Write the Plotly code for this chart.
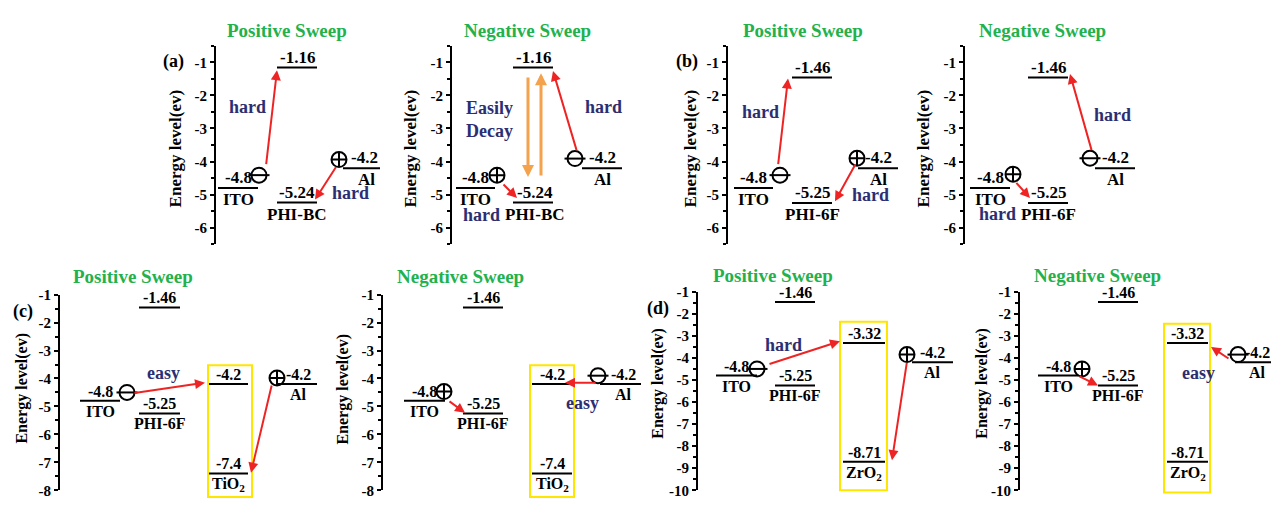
import plotly.graph_objects as go

# ---------------- data: energy levels (eV) ----------------
materials = ["ITO", "PHI-BC LUMO", "PHI-BC HOMO", "PHI-6F LUMO", "PHI-6F HOMO",
             "TiO2 CB", "TiO2 VB", "ZrO2 CB", "ZrO2 VB", "Al"]
energies = [-4.8, -1.16, -5.24, -1.46, -5.25, -4.2, -7.4, -3.32, -8.71, -4.2]
name_keys = ["ITO", "PHI-BC HOMO", "PHI-6F HOMO", "TiO2 VB", "ZrO2 VB", "Al"]
name_texts = ["ITO", "PHI-BC", "PHI-6F", "TiO<sub>2</sub>", "ZrO<sub>2</sub>", "Al"]
panel_titles = ["Positive Sweep", "Negative Sweep"] * 4
panel_tags = ["(a)", "", "(b)", "", "(c)", "", "(d)", ""]
ticks_ab = [-1, -2, -3, -4, -5, -6]
ticks_c = [-1, -2, -3, -4, -5, -6, -7, -8]
ticks_d = [-1, -2, -3, -4, -5, -6, -7, -8, -9, -10]
y_title = "Energy level(ev)"

E = dict(zip(materials, energies))
NAMES = dict(zip(name_keys, name_texts))

W, H = 1271, 506
FONT = "Liberation Serif"
RED, NAVY, GREEN, ORANGE, YELLOW = "#ee2424", "#2b2e72", "#22b14c", "#f4a24c", "#ffe600"

# ---------------- layout spec (pixel offsets from each y-axis line) ----------------
panels = [
    dict(ax=216, right=392, top=39, bot=244, yr=(-6.5, -0.5), ticks=ticks_ab,
         title=(287, 23), tag=(173, 55), ylab=(175, 145), ylab_size=17, lab_size=17,
         levels=[("ITO", 2, 42, 0, 0), ("PHI-BC LUMO", 61, 101, 0, 0),
                 ("PHI-BC HOMO", 61, 101, 0, 0), ("Al", 127, 164, 3, 5)],
         circles=[("minus", 43, "ITO", 0.39), ("plus", 123, "Al", 0.26)],
         arrows=[(50, "ITO", 0.68, 61, "PHI-BC LUMO", -0.08, RED, 2),
                 (121, "Al", 0.08, 99, "PHI-BC HOMO", 0.09, RED, 2)],
         texts=[("hard", 31, -2.35), ("hard", 134, -4.95)], box=None),
    dict(ax=452, right=630, top=39, bot=244, yr=(-6.5, -0.5), ticks=ticks_ab,
         title=(527, 23), tag=None, ylab=(410, 145), ylab_size=17, lab_size=17,
         levels=[("ITO", 4, 43, 0, 0), ("PHI-BC LUMO", 61, 101, 0, 0),
                 ("PHI-BC HOMO", 61, 101, 2, 2), ("Al", 130, 170, 0, 0)],
         circles=[("plus", 45, "ITO", 0.39), ("minus", 123, "Al", 0.29)],
         arrows=[(125, "Al", 0.5, 101, "PHI-BC LUMO", -0.1, RED, 2),
                 (50, "ITO", 0.15, 65, "PHI-BC HOMO", 0.14, RED, 2),
                 (76, "PHI-BC LUMO", -0.25, 76, "PHI-BC HOMO", 0.77, ORANGE, 3),
                 (89, "PHI-BC HOMO", 0.77, 89, "PHI-BC LUMO", -0.17, ORANGE, 3)],
         texts=[("Easily<br>Decay", 37, -2.74), ("hard", 151, -2.35), ("hard", 29, -5.62)],
         box=None),
    dict(ax=728, right=906, top=39, bot=244, yr=(-6.5, -0.5), ticks=ticks_ab,
         title=(803, 23), tag=(687, 55), ylab=(690, 145), ylab_size=17, lab_size=17,
         levels=[("ITO", 6, 45, 0, 0), ("PHI-6F LUMO", 64, 104, 0, 0),
                 ("PHI-6F HOMO", 64, 104, 0, 0), ("Al", 130, 170, 0, 0)],
         circles=[("minus", 52, "ITO", 0.39), ("plus", 129, "Al", 0.3)],
         arrows=[(50, "ITO", 0.68, 60, "PHI-6F LUMO", -0.03, RED, 2),
                 (128, "Al", 0.15, 107, "PHI-6F HOMO", 0.05, RED, 2)],
         texts=[("hard", 32, -2.5), ("hard", 142, -5.0)], box=None),
    dict(ax=965, right=1142, top=39, bot=244, yr=(-6.5, -0.5), ticks=ticks_ab,
         title=(1042, 23), tag=None, ylab=(923, 145), ylab_size=17, lab_size=17,
         levels=[("ITO", 5, 45, 0, 0), ("PHI-6F LUMO", 63, 103, 0, 0),
                 ("PHI-6F HOMO", 63, 103, 0, 0), ("Al", 130, 170, 0, 0)],
         circles=[("plus", 48, "ITO", 0.42), ("minus", 125, "Al", 0.3)],
         arrows=[(127, "Al", 0.5, 105, "PHI-6F LUMO", 0.11, RED, 2),
                 (50, "ITO", 0.2, 65, "PHI-6F HOMO", 0.15, RED, 2)],
         texts=[("hard", 147, -2.6), ("hard", 32, -5.58)], box=None),
    dict(ax=60, right=322, top=296, bot=498, yr=(-8, -1), ticks=ticks_c,
         title=(133, 277), tag=(23, 313), ylab=(22, 393), ylab_size=16, lab_size=16,
         levels=[("ITO", 20, 60, 0, 0), ("PHI-6F LUMO", 79, 120, 0, 0),
                 ("PHI-6F HOMO", 79, 120, 0, 0), ("TiO2 CB", 149, 188, 0, 0),
                 ("TiO2 VB", 149, 188, 0, 0), ("Al", 217, 257, 1, 1)],
         circles=[("minus", 67, "ITO", 0.3), ("plus", 217, "Al", 0.22)],
         arrows=[(73, "ITO", 0.27, 145, "TiO2 CB", 0.05, RED, 2),
                 (212, "Al", 0.0, 191, "TiO2 VB", 0.03, RED, 2)],
         texts=[("easy", 103, -3.8)],
         box=(148, 192, "TiO2 CB", 0.67, -8.24)),
    dict(ax=383, right=645, top=296, bot=498, yr=(-8, -1), ticks=ticks_c,
         title=(460, 277), tag=None, ylab=(343, 393), ylab_size=16, lab_size=16,
         levels=[("ITO", 21, 62, 0, 0), ("PHI-6F LUMO", 80, 120, 0, 0),
                 ("PHI-6F HOMO", 80, 120, 0, 0), ("TiO2 CB", 149, 189, 0, 0),
                 ("TiO2 VB", 149, 189, 0, 0), ("Al", 217, 258, 3, 3)],
         circles=[("plus", 61, "ITO", 0.33), ("minus", 215, "Al", 0.3)],
         arrows=[(214, "Al", 0.05, 182, "TiO2 CB", 0.05, RED, 2),
                 (65, "ITO", 0.02, 82, "PHI-6F HOMO", 0.02, RED, 2)],
         texts=[("easy", 199, -4.88)],
         box=(147, 191, "TiO2 CB", 0.67, -8.24)),
    dict(ax=698, right=958, top=293, bot=498, yr=(-10, -1), ticks=ticks_d,
         title=(773, 276), tag=(658, 310), ylab=(658, 388), ylab_size=16, lab_size=16,
         levels=[("ITO", 18, 59, 0, 0), ("PHI-6F LUMO", 77, 117, 0, 0),
                 ("PHI-6F HOMO", 77, 117, 0, 0), ("ZrO2 CB", 145, 187, 0, 0),
                 ("ZrO2 VB", 145, 187, 0, 0), ("Al", 214, 255, 0, 0)],
         circles=[("minus", 59, "ITO", 0.3), ("plus", 209, "Al", 0.35)],
         arrows=[(70, "ITO", 0.5, 142, "ZrO2 CB", 0.08, RED, 2),
                 (209, "Al", 0.04, 194, "ZrO2 VB", 0.07, RED, 2)],
         texts=[("hard", 85, -3.4)],
         box=(142, 189, "ZrO2 CB", 0.96, -10.0)),
    dict(ax=1020, right=1271, top=293, bot=498, yr=(-10, -1), ticks=ticks_d,
         title=(1097, 276), tag=None, ylab=(982, 388), ylab_size=16, lab_size=16,
         levels=[("ITO", 18, 58, 0, 0), ("PHI-6F LUMO", 78, 118, 0, 0),
                 ("PHI-6F HOMO", 78, 118, 0, 0), ("ZrO2 CB", 147, 188, 0, 0),
                 ("ZrO2 VB", 147, 188, 0, 0), ("Al", 215, 251, 4, 4)],
         circles=[("plus", 62, "ITO", 0.3), ("minus", 218, "Al", 0.35)],
         arrows=[(210, "Al", 0.13, 191, "ZrO2 CB", -0.18, RED, 2),
                 (58, "ITO", 0.0, 78, "PHI-6F HOMO", 0.0, RED, 2)],
         texts=[("easy", 178, -4.7)],
         box=(144, 190, "ZrO2 CB", 0.87, -10.1)),
]

fig = go.Figure()
annotations = []
shapes = []
layout_axes = {}


def bold(s):
    return "<b>" + s + "</b>"


for i, p in enumerate(panels, start=1):
    xs = "" if i == 1 else str(i)
    xref, yref = "x" + xs, "y" + xs
    width = p["right"] - p["ax"]
    r0, r1 = p["yr"]
    minor_vals = [t - 0.5 for t in p["ticks"]] + [p["ticks"][0] + 0.5]
    minor_vals = [m for m in minor_vals if r0 <= m <= r1]
    layout_axes["xaxis" + xs] = dict(
        domain=[p["ax"] / W, p["right"] / W], range=[0, width], visible=False,
        anchor=yref, fixedrange=True)
    layout_axes["yaxis" + xs] = dict(
        domain=[1 - p["bot"] / H, 1 - p["top"] / H], range=[r0, r1], anchor=xref,
        showline=True, linewidth=2, linecolor="black", showgrid=False, zeroline=False,
        tickmode="array", tickvals=p["ticks"], ticktext=[str(t) for t in p["ticks"]],
        ticks="outside", ticklen=4, tickwidth=2, tickcolor="black",
        ticklabeloverflow="allow",
        tickfont=dict(family=FONT, size=15, color="black", weight="bold"),
        minor=dict(tickmode="array", tickvals=minor_vals, ticks="outside",
                   ticklen=3, tickwidth=1.5, tickcolor="black"),
        fixedrange=True)

    # energy level lines + labels
    for key, x0, x1, dv, dn in p["levels"]:
        v = E[key]
        fig.add_trace(go.Scatter(x=[x0, x1], y=[v, v], mode="lines",
                                 line=dict(color="black", width=2),
                                 xaxis=xref, yaxis=yref, hoverinfo="skip"))
        cx = (x0 + x1) / 2
        annotations.append(dict(x=cx + dv, y=v, xref=xref, yref=yref, text=bold(f"{v:g}"),
                                showarrow=False, xanchor="center", yanchor="bottom", yshift=-1,
                                font=dict(family=FONT, size=p["lab_size"], color="black")))
        if key in NAMES:
            annotations.append(dict(x=cx + dn, y=v, xref=xref, yref=yref,
                                    text=bold(NAMES[key]), showarrow=False,
                                    xanchor="center", yanchor="top", yshift=0,
                                    font=dict(family=FONT, size=p["lab_size"], color="black")))

    # charge symbols
    for kind, cx, key, dy in p["circles"]:
        yv = E[key] + dy
        sym = "circle-cross-open" if kind == "plus" else "circle-open"
        fig.add_trace(go.Scatter(x=[cx], y=[yv], mode="markers", xaxis=xref, yaxis=yref,
                                 marker=dict(symbol=sym, size=15, color="black",
                                             line=dict(width=2, color="black")),
                                 hoverinfo="skip", cliponaxis=False))
        if kind == "minus":
            fig.add_trace(go.Scatter(x=[cx], y=[yv], mode="markers", xaxis=xref, yaxis=yref,
                                     marker=dict(symbol="line-ew", size=15, color="black",
                                                 line=dict(width=2, color="black")),
                                     hoverinfo="skip", cliponaxis=False))

    # arrows
    for x0, k0, d0, x1, k1, d1, col, wdt in p["arrows"]:
        annotations.append(dict(x=x1, y=E[k1] + d1, ax=x0, ay=E[k0] + d0,
                                xref=xref, yref=yref, axref=xref, ayref=yref,
                                showarrow=True, arrowhead=2, arrowsize=1 if wdt == 2 else 0.8,
                                arrowwidth=wdt, arrowcolor=col, standoff=0, text=""))

    # descriptive texts
    for t, tx, ty in p["texts"]:
        annotations.append(dict(x=tx, y=ty, xref=xref, yref=yref, text=bold(t),
                                showarrow=False, xanchor="center", yanchor="middle",
                                font=dict(family=FONT, size=18, color=NAVY)))

    # highlight box
    if p["box"]:
        bx0, bx1, bkey, bdy, bbot = p["box"]
        shapes.append(dict(type="rect", xref=xref + " domain", yref=yref + " domain",
                           x0=bx0 / width, x1=bx1 / width,
                           y0=(bbot - r0) / (r1 - r0), y1=(E[bkey] + bdy - r0) / (r1 - r0),
                           line=dict(color=YELLOW, width=2), fillcolor="rgba(0,0,0,0)"))

    # panel title, tag, y-axis title
    tx, ty = p["title"]
    annotations.append(dict(x=tx / W, y=1 - ty / H, xref="paper", yref="paper",
                            text=bold(panel_titles[i - 1]), showarrow=False,
                            xanchor="center", yanchor="middle",
                            font=dict(family=FONT, size=19, color=GREEN)))
    if p["tag"]:
        gx, gy = p["tag"]
        annotations.append(dict(x=gx / W, y=1 - gy / H, xref="paper", yref="paper",
                                text=bold(panel_tags[i - 1]), showarrow=False,
                                xanchor="center", yanchor="middle",
                                font=dict(family=FONT, size=18, color="black")))
    lx, ly = p["ylab"]
    annotations.append(dict(x=lx / W, y=1 - ly / H, xref="paper", yref="paper",
                            text=bold(y_title), showarrow=False, textangle=-90,
                            xanchor="center", yanchor="middle",
                            font=dict(family=FONT, size=p["ylab_size"], color="black")))

fig.update_layout(width=W, height=H, margin=dict(l=0, r=0, t=0, b=0),
                  paper_bgcolor="white", plot_bgcolor="white", showlegend=False,
                  annotations=annotations, shapes=shapes, **layout_axes)
fig.write_html("out.html")
